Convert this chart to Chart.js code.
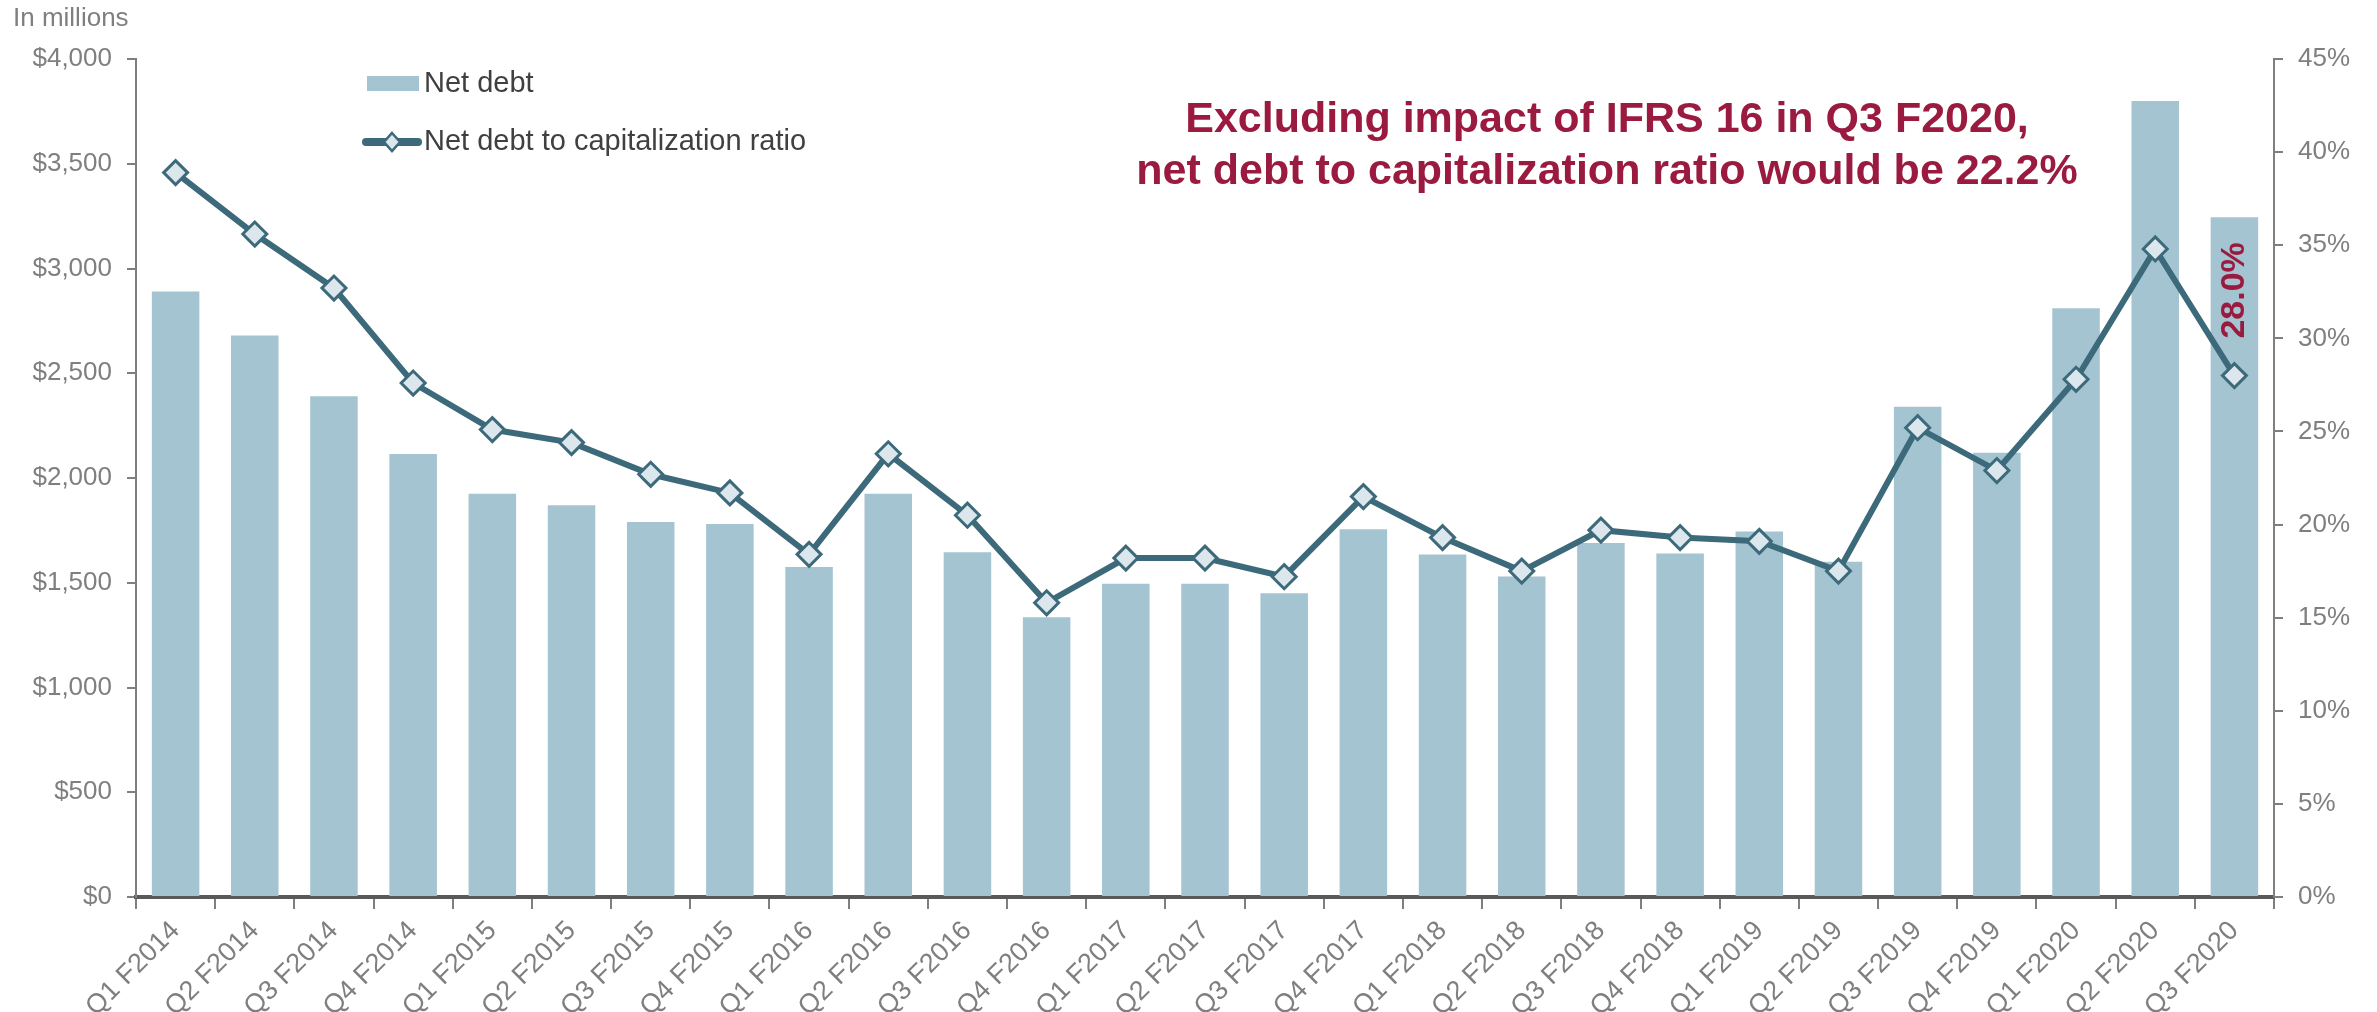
<!DOCTYPE html>
<html>
<head>
<meta charset="utf-8">
<script src="https://cdn.jsdelivr.net/npm/chart.js@4.4.1/dist/chart.umd.min.js"></script>
<style>
  html, body { margin: 0; padding: 0; background: #fff; }
  #wrap { width: 2377px; height: 1012px; position: relative; }
</style>
</head>
<body>
<div id="wrap"><canvas id="chart"></canvas></div>
<script>
// quarters on the x axis
var quarters = ['Q1 F2014', 'Q2 F2014', 'Q3 F2014', 'Q4 F2014',
  'Q1 F2015', 'Q2 F2015', 'Q3 F2015', 'Q4 F2015',
  'Q1 F2016', 'Q2 F2016', 'Q3 F2016', 'Q4 F2016',
  'Q1 F2017', 'Q2 F2017', 'Q3 F2017', 'Q4 F2017',
  'Q1 F2018', 'Q2 F2018', 'Q3 F2018', 'Q4 F2018',
  'Q1 F2019', 'Q2 F2019', 'Q3 F2019', 'Q4 F2019',
  'Q1 F2020', 'Q2 F2020', 'Q3 F2020'];

// net debt, $ millions
var net_debt = [2890, 2680, 2390, 2115, 1925, 1870, 1790, 1780,
  1575, 1925, 1645, 1335, 1495, 1495, 1450, 1755,
  1635, 1530, 1690, 1640, 1745, 1600, 2340, 2120,
  2810, 3800, 3245];

// net debt to capitalization ratio, %
var ratio = [38.9, 35.6, 32.7, 27.6, 25.1, 24.4, 22.7, 21.7,
  18.4, 23.8, 20.5, 15.8, 18.2, 18.2, 17.2, 21.5,
  19.3, 17.5, 19.7, 19.3, 19.1, 17.5, 25.2, 22.9,
  27.8, 34.8, 28.0];

var note_lines = ['Excluding impact of IFRS 16 in Q3 F2020,',
  'net debt to capitalization ratio would be 22.2%'];
var last_label = '28.0%';

var bar_color = '#a3c4d0';
var line_color = '#3d6a7b';
var marker_fill = '#dce7ed';
var note_color = '#9b1b40';
var tick_color = '#7f7f7f';

// title, legend and the notes drawn on top
var extras = {
  id: 'extras',
  afterDraw: function(chart) {
    var ctx = chart.ctx;
    var area = chart.chartArea;
    ctx.save();

    ctx.fillStyle = tick_color;
    ctx.font = '26px "Liberation Sans", Arial, sans-serif';
    ctx.textAlign = 'left';
    ctx.textBaseline = 'middle';
    ctx.fillText('In millions', 13, 19);

    // legend
    var lx = area.left + 231;
    ctx.fillStyle = bar_color;
    ctx.fillRect(lx, 76, 52, 15);
    ctx.strokeStyle = line_color;
    ctx.lineWidth = 8;
    ctx.lineCap = 'round';
    ctx.beginPath();
    ctx.moveTo(lx - 1, 142);
    ctx.lineTo(lx + 51, 142);
    ctx.stroke();
    ctx.lineWidth = 2.5;
    ctx.fillStyle = marker_fill;
    ctx.beginPath();
    ctx.moveTo(lx + 25, 133);
    ctx.lineTo(lx + 33, 142);
    ctx.lineTo(lx + 25, 151);
    ctx.lineTo(lx + 17, 142);
    ctx.closePath();
    ctx.fill();
    ctx.stroke();

    ctx.fillStyle = '#404040';
    ctx.font = '29px "Liberation Sans", Arial, sans-serif';
    ctx.fillText(chart.data.datasets[1].label, lx + 57, 84);
    ctx.fillText(chart.data.datasets[0].label, lx + 57, 142);

    // IFRS note
    ctx.fillStyle = note_color;
    ctx.font = 'bold 43px "Liberation Sans", Arial, sans-serif';
    ctx.textAlign = 'center';
    var nx = area.left + 1471;
    ctx.fillText(note_lines[0], nx, 120);
    ctx.fillText(note_lines[1], nx, 172);

    // rotated value on the last point
    var meta = chart.getDatasetMeta(0);
    var pt = meta.data[meta.data.length - 1];
    ctx.translate(pt.x, pt.y - 37);
    ctx.rotate(-Math.PI / 2);
    ctx.font = 'bold 34px "Liberation Sans", Arial, sans-serif';
    ctx.textAlign = 'left';
    ctx.fillText(last_label, 0, 0);

    ctx.restore();
  }
};

const config = {
  data: {
    labels: quarters,
    datasets: [{
      type: 'line',
      label: 'Net debt to capitalization ratio',
      data: ratio,
      yAxisID: 'y2',
      borderColor: line_color,
      borderWidth: 6,
      pointStyle: 'rectRot',
      pointRadius: 12,
      pointBorderWidth: 3,
      pointBackgroundColor: marker_fill,
      pointBorderColor: line_color,
      tension: 0,
      order: 0
    }, {
      type: 'bar',
      label: 'Net debt',
      data: net_debt,
      yAxisID: 'y',
      backgroundColor: bar_color,
      barPercentage: 0.6,
      categoryPercentage: 1.0,
      order: 1
    }]
  },
  options: {
    responsive: false,
    animation: false,
    layout: { padding: { top: 59, right: 0, bottom: 0, left: 0 } },
    plugins: {
      legend: { display: false },
      tooltip: { enabled: false }
    },
    scales: {
      x: {
        offset: true,
        grid: { display: true, drawOnChartArea: false, offset: true, tickLength: 12, color: tick_color, lineWidth: 2 },
        border: { display: true, color: '#595959', width: 4 },
        ticks: {
          color: tick_color,
          font: { family: '"Liberation Sans", Arial, sans-serif', size: 27 },
          minRotation: 45, maxRotation: 45, padding: 6, autoSkip: false
        },
        afterFit: function(scale) { scale.height = 115; }
      },
      y: {
        position: 'left',
        min: 0, max: 4000,
        grid: { display: true, drawOnChartArea: false, tickLength: 9, color: tick_color, lineWidth: 2 },
        border: { display: true, color: tick_color, width: 2 },
        ticks: {
          stepSize: 500,
          color: tick_color,
          font: { family: '"Liberation Sans", Arial, sans-serif', size: 26 },
          padding: 15,
          callback: function(v) { return '$' + v.toLocaleString('en-US'); }
        },
        afterFit: function(scale) { scale.width = 136; }
      },
      y2: {
        position: 'right',
        min: 0, max: 45,
        grid: { display: true, drawOnChartArea: false, tickLength: 9, color: tick_color, lineWidth: 2 },
        border: { display: true, color: tick_color, width: 2 },
        ticks: {
          stepSize: 5,
          color: tick_color,
          font: { family: '"Liberation Sans", Arial, sans-serif', size: 26 },
          padding: 15,
          callback: function(v) { return v + '%'; }
        },
        afterFit: function(scale) { scale.width = 103; }
      }
    }
  },
  plugins: [extras]
};

const canvas = document.getElementById('chart');
canvas.width = 2377;
canvas.height = 1012;
const myChart = new Chart(canvas, config);
</script>
</body>
</html>
